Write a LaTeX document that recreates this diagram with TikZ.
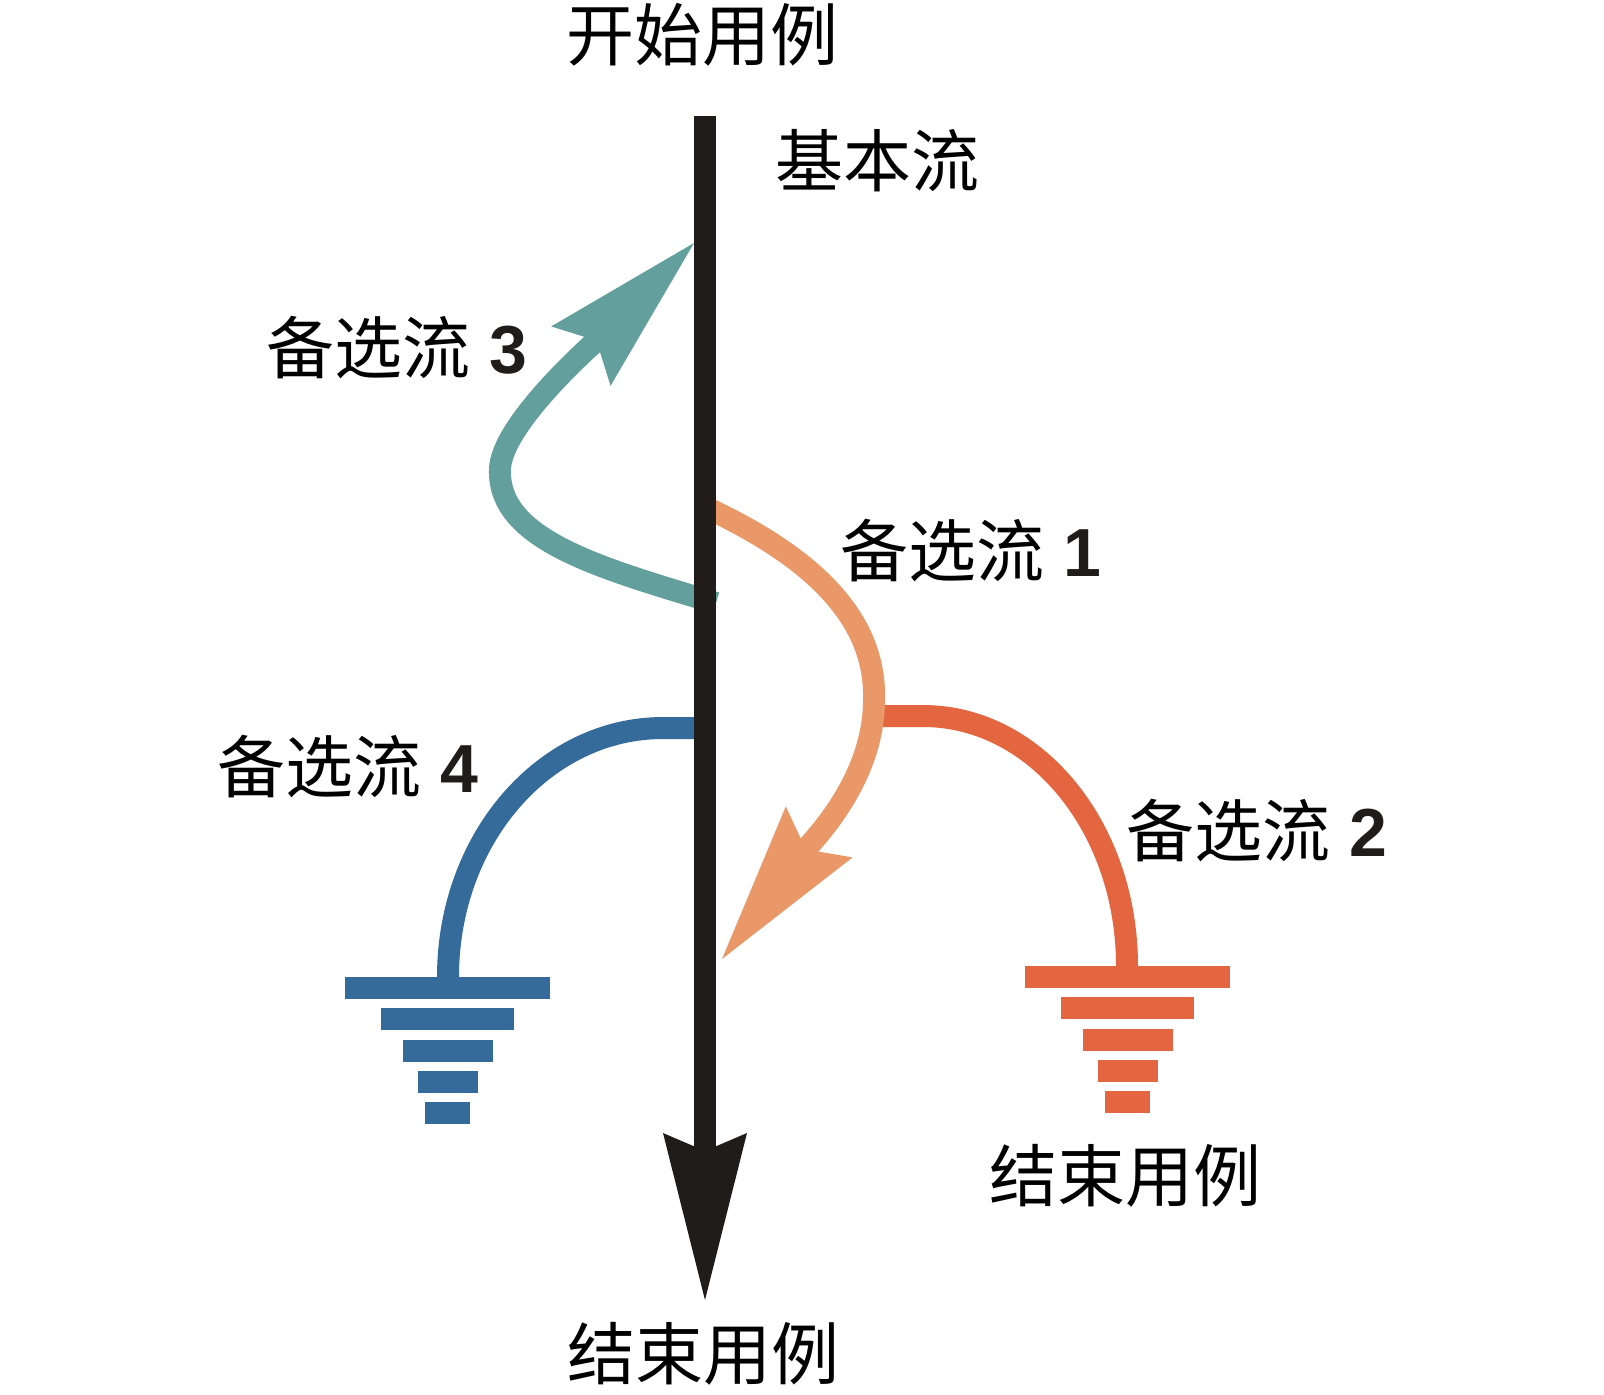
\documentclass[tikz,border=0pt]{standalone}
\usepackage{fontspec}
\setmainfont{Liberation Sans}
\newfontfamily\cjk{Noto Sans CJK SC}
\usetikzlibrary{arrows.meta}
\definecolor{mainblack}{RGB}{32,28,25}
\definecolor{altorange}{RGB}{234,152,104}
\definecolor{altred}{RGB}{228,102,65}
\definecolor{altteal}{RGB}{99,159,156}
\definecolor{altblue}{RGB}{52,107,154}

\begin{document}
\begin{tikzpicture}[
    x=1pt, y=-1pt,
    flow/.style={line width=22pt},
    flowtip/.style={-{Stealth[length=160pt, width=84pt, inset=22pt, line width=0pt]}},
    lbl/.style={inner sep=0pt, font=\fontsize{68}{80}\selectfont}
]
\useasboundingbox (0,0) rectangle (1604,1395);

% main flow
\coordinate (start) at (705,116);
\coordinate (end) at (705,1300);

% alternative flows, end points
\coordinate (alt1in) at (705,507);
\coordinate (alt1mid) at (874,700);
\coordinate (alt1out) at (722,959);
\coordinate (alt2in) at (872,716);
\coordinate (alt2turn) at (923,716);
\coordinate (alt2end) at (1127,966);
\coordinate (alt3in) at (716,603);
\coordinate (alt3left) at (500,470);
\coordinate (alt3out) at (694,243);
\coordinate (alt4in) at (705,728);
\coordinate (alt4turn) at (663,728);
\coordinate (alt4end) at (448,977);

% alternative flow 2 (ends the use case)
\draw[flow, altred] (alt2in) -- (alt2turn)
    .. controls (1036,716) and (1127,828) .. (alt2end);
\foreach \w [count=\i from 0] in {205,133,90,60,45}
    \fill[altred] (1127.5-\w/2, 966+\i*31.25) rectangle ++(\w,22);

% alternative flow 4 (ends the use case)
\draw[flow, altblue] (alt4in) -- (alt4turn)
    .. controls (544,728) and (448,839) .. (alt4end);
\foreach \w [count=\i from 0] in {205,133,90,60,45}
    \fill[altblue] (447.5-\w/2, 977+\i*31.25) rectangle ++(\w,22);

% alternative flow 3 (back to the main flow)
\draw[flow, altteal, flowtip] (alt3in)
    .. controls (600,568) and (498,540) .. (alt3left)
    .. controls (500,425) and (595,342) .. (alt3out);

% alternative flow 1 (back to the main flow)
\draw[flow, altorange, flowtip] (alt1in)
    .. controls (830,565) and (876,630) .. (alt1mid)
    .. controls (874,780) and (813,840) .. (alt1out);

% basic flow
\draw[flow, mainblack, -{Stealth[length=167pt, width=84pt, inset=18pt, line width=0pt]}]
    (start) -- (end);

% labels
\node[lbl] (begin) at (702,35) {\cjk 开始用例};
\node[lbl, anchor=west] (basic) at (775,161) {\cjk 基本流};
\node[lbl, anchor=west] (lbl3) at (266,348) {{\cjk 备选流} \textcolor{mainblack}{\bfseries 3}};
\node[lbl, anchor=west] (lbl1) at (840,551) {{\cjk 备选流} \textcolor{mainblack}{\bfseries 1}};
\node[lbl, anchor=west] (lbl4) at (217,767) {{\cjk 备选流} \textcolor{mainblack}{\bfseries 4}};
\node[lbl, anchor=west] (lbl2) at (1126,831) {{\cjk 备选流} \textcolor{mainblack}{\bfseries 2}};
\node[lbl] (finish2) at (1125,1176) {\cjk 结束用例};
\node[lbl] (finish) at (703,1354) {\cjk 结束用例};
\end{tikzpicture}
\end{document}
